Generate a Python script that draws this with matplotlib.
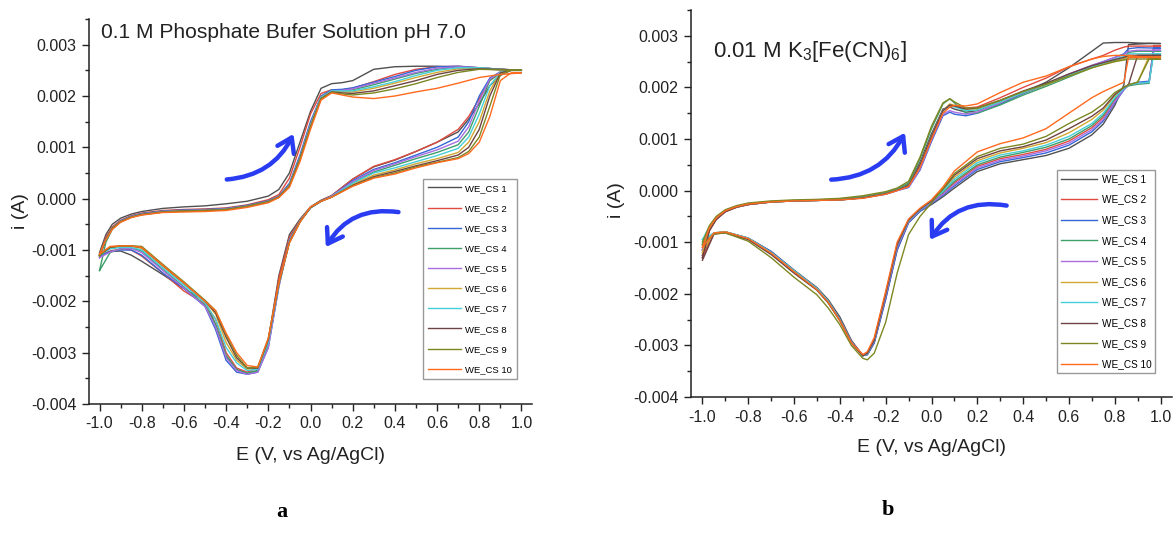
import numpy as np
import matplotlib
matplotlib.use("Agg")
import matplotlib.pyplot as plt
from matplotlib.ticker import MultipleLocator, FormatStrFormatter
from matplotlib.patches import FancyArrowPatch

plt.rcParams['font.family'] = ['Liberation Sans', 'DejaVu Sans']
plt.rcParams['mathtext.fontset'] = 'custom'
plt.rcParams['mathtext.rm'] = 'Liberation Sans'
plt.rcParams['mathtext.default'] = 'regular'
plt.rcParams['axes.unicode_minus'] = False

labels = ["WE_CS %d" % i for i in range(1, 11)]
colors = ['#505050', '#e04a3f', '#3466d4', '#3f9e6a', '#a86ee0',
          '#d2a732', '#45cfd8', '#6e4343', '#7d8722', '#ff6a1f']

# ---------- panel a: 0.1 M phosphate buffer (currents in mA) ----------
Ef_a = [-1.0, -0.97, -0.94, -0.9, -0.85, -0.8, -0.7, -0.6, -0.5, -0.4, -0.3, -0.2, -0.15, -0.1,
        -0.05, 0.0, 0.05, 0.1, 0.15, 0.2, 0.3, 0.4, 0.5, 0.6, 0.7, 0.8, 0.9, 1.0]
fwd_a = [
    [-1.05, -0.7, -0.5, -0.38, -0.3, -0.25, -0.19, -0.16, -0.14, -0.1, -0.05, 0.05, 0.18, 0.5, 1.1, 1.7, 2.15, 2.24, 2.26, 2.3, 2.52, 2.57, 2.58, 2.58, 2.56, 2.53, 2.51, 2.5],
    [-1.1, -0.75, -0.55, -0.42, -0.33, -0.28, -0.23, -0.21, -0.2, -0.18, -0.12, -0.02, 0.08, 0.4, 1.0, 1.65, 2.05, 2.12, 2.12, 2.15, 2.28, 2.42, 2.52, 2.57, 2.58, 2.55, 2.52, 2.5],
    [-1.12, -0.78, -0.57, -0.43, -0.34, -0.29, -0.24, -0.22, -0.21, -0.19, -0.13, -0.04, 0.05, 0.3, 0.85, 1.5, 2.0, 2.12, 2.13, 2.16, 2.27, 2.38, 2.5, 2.57, 2.58, 2.55, 2.52, 2.5],
    [-1.4, -0.85, -0.6, -0.44, -0.35, -0.3, -0.25, -0.23, -0.22, -0.2, -0.14, -0.05, 0.04, 0.27, 0.8, 1.45, 1.98, 2.1, 2.1, 2.12, 2.22, 2.33, 2.44, 2.52, 2.56, 2.55, 2.52, 2.5],
    [-1.15, -0.8, -0.58, -0.44, -0.35, -0.3, -0.25, -0.23, -0.22, -0.2, -0.14, -0.05, 0.04, 0.27, 0.8, 1.45, 1.98, 2.1, 2.11, 2.14, 2.25, 2.35, 2.46, 2.54, 2.57, 2.55, 2.52, 2.5],
    [-1.1, -0.8, -0.58, -0.45, -0.36, -0.31, -0.26, -0.24, -0.23, -0.21, -0.15, -0.06, 0.03, 0.25, 0.78, 1.42, 1.97, 2.09, 2.08, 2.08, 2.15, 2.25, 2.36, 2.46, 2.53, 2.54, 2.52, 2.5],
    [-1.1, -0.8, -0.58, -0.45, -0.36, -0.31, -0.26, -0.24, -0.23, -0.21, -0.15, -0.06, 0.03, 0.25, 0.78, 1.42, 1.97, 2.1, 2.1, 2.1, 2.18, 2.28, 2.4, 2.5, 2.55, 2.55, 2.52, 2.5],
    [-1.1, -0.8, -0.58, -0.45, -0.36, -0.31, -0.26, -0.24, -0.23, -0.21, -0.15, -0.06, 0.03, 0.25, 0.77, 1.4, 1.95, 2.08, 2.06, 2.05, 2.1, 2.2, 2.3, 2.42, 2.5, 2.53, 2.52, 2.5],
    [-1.12, -0.8, -0.58, -0.45, -0.36, -0.31, -0.26, -0.24, -0.23, -0.21, -0.15, -0.06, 0.03, 0.25, 0.77, 1.4, 1.95, 2.07, 2.04, 2.02, 2.06, 2.14, 2.24, 2.36, 2.46, 2.52, 2.51, 2.5],
    [-1.08, -0.8, -0.6, -0.46, -0.37, -0.32, -0.27, -0.26, -0.25, -0.23, -0.17, -0.08, 0.02, 0.22, 0.72, 1.35, 1.92, 2.06, 2.02, 1.98, 1.95, 2.0, 2.08, 2.15, 2.25, 2.36, 2.42, 2.45],
]
Er_a = [1.0, 0.95, 0.9, 0.85, 0.8, 0.75, 0.7, 0.6, 0.5, 0.4, 0.3, 0.2, 0.1, 0.05, 0.0, -0.05, -0.1,
        -0.15, -0.2, -0.25, -0.3, -0.35, -0.4, -0.45, -0.5, -0.6, -0.7, -0.8, -0.85, -0.9, -0.95, -1.0]
rev_a = [
    [2.5, 2.5, 2.4, 2.2, 1.85, 1.55, 1.3, 1.1, 0.92, 0.75, 0.62, 0.38, 0.06, -0.03, -0.16, -0.4, -0.7, -1.5, -2.75, -3.35, -3.4, -3.33, -3.08, -2.45, -2.0, -1.75, -1.48, -1.22, -1.1, -1.02, -1.03, -1.1],
    [2.5, 2.5, 2.45, 2.3, 1.95, 1.6, 1.35, 1.1, 0.92, 0.76, 0.63, 0.38, 0.06, -0.04, -0.17, -0.42, -0.75, -1.55, -2.8, -3.3, -3.38, -3.3, -3.0, -2.35, -2.05, -1.8, -1.45, -1.12, -1.0, -0.98, -1.02, -1.1],
    [2.5, 2.5, 2.47, 2.35, 2.0, 1.5, 1.2, 1.0, 0.85, 0.7, 0.57, 0.35, 0.05, -0.05, -0.18, -0.44, -0.8, -1.7, -2.9, -3.38, -3.42, -3.38, -3.15, -2.55, -2.1, -1.75, -1.45, -1.1, -1.0, -1.0, -1.03, -1.12],
    [2.5, 2.5, 2.47, 2.3, 1.8, 1.3, 1.05, 0.9, 0.78, 0.65, 0.52, 0.32, 0.04, -0.05, -0.18, -0.44, -0.82, -1.7, -2.85, -3.35, -3.4, -3.33, -3.05, -2.45, -2.08, -1.72, -1.38, -1.02, -0.96, -0.97, -1.05, -1.4],
    [2.5, 2.5, 2.47, 2.33, 1.9, 1.4, 1.12, 0.95, 0.82, 0.68, 0.55, 0.33, 0.05, -0.05, -0.18, -0.44, -0.82, -1.72, -2.9, -3.38, -3.42, -3.35, -3.1, -2.5, -2.1, -1.74, -1.4, -1.05, -0.97, -0.98, -1.04, -1.15],
    [2.5, 2.5, 2.46, 2.1, 1.5, 1.1, 0.9, 0.78, 0.68, 0.56, 0.46, 0.28, 0.03, -0.05, -0.17, -0.44, -0.84, -1.65, -2.75, -3.3, -3.32, -3.15, -2.8, -2.25, -2.0, -1.65, -1.32, -0.97, -0.93, -0.93, -0.96, -1.1],
    [2.5, 2.5, 2.46, 2.2, 1.65, 1.2, 0.98, 0.84, 0.72, 0.6, 0.5, 0.3, 0.04, -0.05, -0.17, -0.44, -0.84, -1.68, -2.8, -3.32, -3.35, -3.2, -2.9, -2.35, -2.03, -1.68, -1.35, -1.0, -0.95, -0.95, -0.98, -1.1],
    [2.5, 2.5, 2.45, 2.0, 1.35, 1.0, 0.85, 0.74, 0.64, 0.53, 0.43, 0.26, 0.03, -0.05, -0.17, -0.45, -0.85, -1.65, -2.75, -3.3, -3.3, -3.1, -2.7, -2.22, -1.99, -1.64, -1.3, -0.95, -0.92, -0.92, -0.95, -1.1],
    [2.5, 2.5, 2.42, 1.8, 1.2, 0.92, 0.8, 0.71, 0.62, 0.5, 0.41, 0.25, 0.03, -0.05, -0.17, -0.46, -0.86, -1.65, -2.72, -3.28, -3.3, -3.05, -2.65, -2.18, -1.98, -1.62, -1.28, -0.93, -0.92, -0.92, -0.94, -1.1],
    [2.45, 2.45, 2.3, 1.6, 1.1, 0.88, 0.78, 0.7, 0.6, 0.48, 0.4, 0.24, 0.03, -0.05, -0.16, -0.46, -0.86, -1.64, -2.72, -3.28, -3.25, -3.0, -2.62, -2.18, -2.0, -1.64, -1.3, -0.95, -0.92, -0.92, -0.93, -1.08],
]

# ---------- panel b: 0.01 M K3[Fe(CN)6] (currents in mA) ----------
Ef_b = [-1.0, -0.97, -0.94, -0.9, -0.85, -0.8, -0.7, -0.6, -0.5, -0.4, -0.3, -0.2, -0.15, -0.1, -0.05,
        0.0, 0.05, 0.08, 0.1, 0.15, 0.2, 0.3, 0.4, 0.5, 0.6, 0.7, 0.75, 0.8, 0.84, 0.86, 0.9, 1.0]
fwd_b = [
    [-1.25, -0.75, -0.55, -0.4, -0.31, -0.26, -0.22, -0.2, -0.19, -0.17, -0.13, -0.05, 0.02, 0.12, 0.55, 1.1, 1.58, 1.62, 1.58, 1.52, 1.55, 1.72, 1.9, 2.1, 2.38, 2.7, 2.86, 2.87, 2.87, 2.87, 2.86, 2.85],
    [-1.3, -0.78, -0.56, -0.41, -0.32, -0.27, -0.22, -0.2, -0.19, -0.18, -0.14, -0.06, 0.01, 0.1, 0.5, 1.05, 1.55, 1.65, 1.65, 1.6, 1.62, 1.8, 2.0, 2.18, 2.4, 2.55, 2.62, 2.72, 2.78, 2.8, 2.8, 2.8],
    [-1.15, -0.75, -0.55, -0.4, -0.32, -0.27, -0.22, -0.2, -0.19, -0.18, -0.14, -0.07, 0.0, 0.06, 0.4, 0.95, 1.45, 1.52, 1.48, 1.45, 1.5, 1.68, 1.88, 2.05, 2.25, 2.42, 2.5, 2.58, 2.65, 2.75, 2.77, 2.76],
    [-1.05, -0.7, -0.52, -0.38, -0.3, -0.25, -0.21, -0.19, -0.18, -0.16, -0.12, -0.04, 0.03, 0.15, 0.62, 1.2, 1.68, 1.78, 1.7, 1.5, 1.5, 1.66, 1.85, 2.02, 2.2, 2.38, 2.46, 2.52, 2.55, 2.68, 2.7, 2.7],
    [-1.15, -0.75, -0.55, -0.4, -0.32, -0.27, -0.22, -0.2, -0.19, -0.18, -0.14, -0.07, 0.0, 0.07, 0.42, 0.98, 1.48, 1.55, 1.52, 1.48, 1.52, 1.7, 1.9, 2.06, 2.26, 2.43, 2.5, 2.58, 2.63, 2.7, 2.72, 2.72],
    [-1.2, -0.75, -0.55, -0.4, -0.32, -0.27, -0.22, -0.2, -0.19, -0.18, -0.14, -0.06, 0.01, 0.1, 0.5, 1.05, 1.55, 1.68, 1.65, 1.58, 1.58, 1.72, 1.9, 2.05, 2.22, 2.38, 2.45, 2.5, 2.55, 2.6, 2.6, 2.6],
    [-0.95, -0.7, -0.52, -0.39, -0.31, -0.26, -0.22, -0.2, -0.19, -0.18, -0.14, -0.06, 0.01, 0.1, 0.5, 1.05, 1.55, 1.65, 1.62, 1.55, 1.56, 1.72, 1.9, 2.06, 2.24, 2.4, 2.47, 2.55, 2.6, 2.65, 2.65, 2.65],
    [-1.3, -0.78, -0.56, -0.41, -0.32, -0.27, -0.22, -0.2, -0.19, -0.18, -0.14, -0.06, 0.01, 0.1, 0.5, 1.05, 1.55, 1.66, 1.64, 1.58, 1.6, 1.75, 1.93, 2.08, 2.26, 2.42, 2.48, 2.54, 2.58, 2.62, 2.62, 2.62],
    [-1.0, -0.68, -0.5, -0.37, -0.29, -0.24, -0.2, -0.18, -0.17, -0.15, -0.1, -0.02, 0.05, 0.18, 0.65, 1.25, 1.7, 1.78, 1.72, 1.6, 1.6, 1.75, 1.92, 2.06, 2.22, 2.38, 2.44, 2.5, 2.53, 2.55, 2.55, 2.55],
    [-1.1, -0.72, -0.53, -0.39, -0.31, -0.26, -0.22, -0.2, -0.19, -0.18, -0.15, -0.07, 0.0, 0.08, 0.45, 1.0, 1.5, 1.62, 1.65, 1.64, 1.68, 1.9, 2.1, 2.22, 2.4, 2.55, 2.6, 2.62, 2.62, 2.62, 2.6, 2.58],
]
Er_b = [1.0, 0.97, 0.95, 0.9, 0.86, 0.84, 0.8, 0.75, 0.7, 0.6, 0.5, 0.4, 0.3, 0.2, 0.1, 0.05, 0.0,
        -0.05, -0.1, -0.15, -0.2, -0.25, -0.28, -0.3, -0.35, -0.4, -0.45, -0.5, -0.6, -0.7, -0.8, -0.9, -0.95, -1.0]
rev_b = [
    [2.85, 2.85, 2.85, 2.84, 2.83, 2.05, 1.65, 1.29, 1.08, 0.82, 0.68, 0.6, 0.52, 0.37, 0.05, -0.12, -0.27, -0.4, -0.62, -1.15, -2.1, -2.95, -3.18, -3.2, -2.9, -2.45, -2.12, -1.88, -1.54, -1.18, -0.92, -0.8, -0.83, -1.25],
    [2.8, 2.8, 2.1, 2.08, 2.05, 1.98, 1.75, 1.42, 1.22, 0.96, 0.8, 0.7, 0.62, 0.47, 0.15, -0.05, -0.23, -0.38, -0.6, -1.1, -2.05, -2.9, -3.15, -3.18, -2.92, -2.5, -2.15, -1.9, -1.56, -1.2, -0.93, -0.8, -0.84, -1.3],
    [2.76, 2.76, 2.12, 2.1, 2.05, 1.95, 1.7, 1.35, 1.14, 0.88, 0.73, 0.64, 0.56, 0.41, 0.09, -0.09, -0.25, -0.4, -0.62, -1.15, -2.1, -2.95, -3.18, -3.2, -2.92, -2.5, -2.15, -1.9, -1.55, -1.18, -0.92, -0.8, -0.83, -1.15],
    [2.7, 2.7, 2.08, 2.06, 2.03, 1.97, 1.78, 1.46, 1.26, 1.0, 0.84, 0.74, 0.65, 0.5, 0.18, -0.03, -0.22, -0.37, -0.58, -1.05, -2.0, -2.9, -3.16, -3.2, -2.95, -2.52, -2.18, -1.92, -1.57, -1.2, -0.93, -0.8, -0.82, -1.05],
    [2.72, 2.72, 2.1, 2.08, 2.05, 1.96, 1.72, 1.38, 1.18, 0.92, 0.77, 0.67, 0.59, 0.44, 0.12, -0.07, -0.24, -0.38, -0.6, -1.1, -2.05, -2.92, -3.17, -3.2, -2.94, -2.5, -2.16, -1.9, -1.56, -1.2, -0.93, -0.8, -0.83, -1.15],
    [2.6, 2.6, 2.6, 2.1, 2.05, 2.0, 1.84, 1.56, 1.38, 1.12, 0.93, 0.82, 0.73, 0.58, 0.26, 0.01, -0.2, -0.36, -0.58, -1.05, -2.0, -2.88, -3.15, -3.2, -2.95, -2.52, -2.17, -1.92, -1.58, -1.22, -0.93, -0.8, -0.82, -1.2],
    [2.65, 2.65, 2.1, 2.08, 2.05, 1.98, 1.8, 1.5, 1.3, 1.05, 0.88, 0.77, 0.69, 0.54, 0.22, -0.01, -0.21, -0.37, -0.58, -1.06, -2.0, -2.9, -3.16, -3.2, -2.94, -2.5, -2.15, -1.9, -1.55, -1.2, -0.92, -0.8, -0.82, -0.95],
    [2.62, 2.62, 2.62, 2.62, 2.05, 2.0, 1.86, 1.6, 1.44, 1.2, 0.98, 0.85, 0.77, 0.62, 0.3, 0.03, -0.2, -0.36, -0.57, -1.05, -2.0, -2.9, -3.15, -3.2, -2.95, -2.52, -2.18, -1.93, -1.6, -1.24, -0.95, -0.82, -0.84, -1.35],
    [2.55, 2.55, 2.55, 2.1, 2.05, 2.0, 1.9, 1.68, 1.52, 1.3, 1.05, 0.9, 0.82, 0.66, 0.33, 0.04, -0.24, -0.5, -0.85, -1.6, -2.55, -3.15, -3.28, -3.25, -3.0, -2.6, -2.28, -2.02, -1.68, -1.3, -0.98, -0.82, -0.84, -1.05],
    [2.58, 2.58, 2.58, 2.58, 2.58, 2.1, 2.02, 1.92, 1.8, 1.5, 1.2, 1.02, 0.91, 0.75, 0.38, 0.07, -0.18, -0.34, -0.55, -1.0, -1.95, -2.85, -3.12, -3.18, -2.95, -2.52, -2.17, -1.92, -1.57, -1.21, -0.93, -0.8, -0.82, -1.1],
]

W, H = 1173, 541
fig = plt.figure(figsize=(W / 100., H / 100.), dpi=100)


def px_rect(left, right, top, bottom):
    return [left / W, 1 - bottom / H, (right - left) / W, (bottom - top) / H]


def setup_axes(ax):
    ax.set_xlim(-1.05, 1.05)
    ax.set_ylim(-0.004, 0.0035)
    ax.spines['top'].set_visible(False)
    ax.spines['right'].set_visible(False)
    for s in ['left', 'bottom']:
        ax.spines[s].set_linewidth(1.1)
        ax.spines[s].set_color('#222222')
    ax.xaxis.set_major_locator(MultipleLocator(0.2))
    ax.xaxis.set_minor_locator(MultipleLocator(0.1))
    ax.yaxis.set_major_locator(MultipleLocator(0.001))
    ax.yaxis.set_minor_locator(MultipleLocator(0.0005))
    ax.xaxis.set_major_formatter(FormatStrFormatter('%.1f'))
    ax.yaxis.set_major_formatter(FormatStrFormatter('%.3f'))
    ax.tick_params(which='major', direction='out', length=5, width=1.0, labelsize=11.5,
                   colors='#222222', pad=4)
    ax.tick_params(which='minor', direction='out', length=3, width=1.0, colors='#222222')
    ax.set_xlabel("E (V, vs Ag/AgCl)", fontsize=14, color='#222222')
    ax.set_ylabel("i (A)", fontsize=14, color='#222222')


def draw_cv(ax, Ef, fwd, Er, rev):
    for k in range(10):
        E = np.concatenate([Ef, Er])
        i = np.concatenate([fwd[k], rev[k]]) * 1e-3
        ax.plot(E, i, color=colors[k], lw=1.0, label=labels[k])


def curved_arrow(ax, tail, head, rad):
    arr = FancyArrowPatch(tail, head, connectionstyle="arc3,rad=%f" % rad,
                          arrowstyle="->,head_length=0.45,head_width=0.3",
                          mutation_scale=22, lw=3.2, color='#2a3cf2',
                          capstyle='round', joinstyle='round')
    ax.add_patch(arr)


def add_legend(ax, x0, y0, fs, hl, ls, bp):
    ax.legend(loc='upper left', bbox_to_anchor=(x0 / W, 1 - y0 / H), bbox_transform=fig.transFigure,
              borderaxespad=0, fontsize=fs, handlelength=hl, handletextpad=0.45, labelspacing=ls,
              borderpad=bp, fancybox=False, edgecolor='#999999', framealpha=1)


# panel a
ax1 = fig.add_axes(px_rect(89, 532, 19, 404))
draw_cv(ax1, Ef_a, fwd_a, Er_a, rev_a)
setup_axes(ax1)
ax1.xaxis.set_label_coords(0.50, -0.112)
ax1.yaxis.set_label_coords(-0.135, 0.5)
ax1.text(-0.995, 0.00323, "0.1 M Phosphate Bufer Solution pH 7.0", fontsize=15.1,
         color='#222222', va='center', ha='left')
curved_arrow(ax1, (-0.41, 0.37e-3), (-0.075, 1.31e-3), 0.3)
curved_arrow(ax1, (0.43, -0.27e-3), (0.066, -0.99e-3), 0.35)
add_legend(ax1, 423, 179, 6.8, 3.5, 1.18, 0.5)

# panel b
ax2 = fig.add_axes(px_rect(691, 1172, 10, 397))
draw_cv(ax2, Ef_b, fwd_b, Er_b, rev_b)
setup_axes(ax2)
ax2.xaxis.set_label_coords(0.5, -0.109)
ax2.yaxis.set_label_coords(-0.137, 0.51)
ax2.text(-0.955, 0.00270, "0.01 M K$_{3}$[Fe(CN)$_{6}$]", fontsize=16,
         color='#222222', va='center', ha='left')
curved_arrow(ax2, (-0.45, 0.21e-3), (-0.11, 1.17e-3), 0.3)
curved_arrow(ax2, (0.34, -0.3e-3), (-0.013, -1.0e-3), 0.35)
add_legend(ax2, 1057, 170, 7.2, 3.6, 1.06, 0.4)

fig.text(282 / W, 1 - 512 / H, "a", fontfamily='Liberation Serif', fontweight='bold',
         fontsize=16, ha='center', va='center')
fig.text(888 / W, 1 - 510 / H, "b", fontfamily='Liberation Serif', fontweight='bold',
         fontsize=16, ha='center', va='center')

fig.savefig("out.png", dpi=100)
